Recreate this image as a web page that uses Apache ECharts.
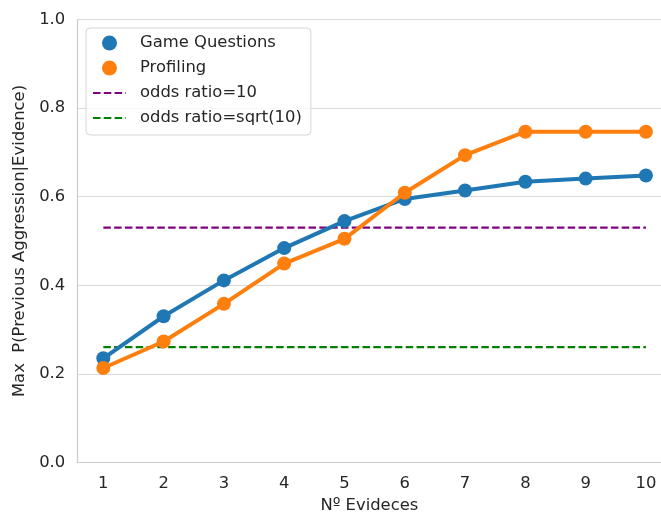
<!DOCTYPE html>
<html>
<head>
<meta charset="utf-8">
<script src="https://cdn.jsdelivr.net/npm/echarts@6/dist/echarts.min.js"></script>
<style>
  html, body { margin: 0; padding: 0; background: #fff; }
  #chart { width: 661px; height: 513px; }
</style>
</head>
<body>
<div id="chart"></div>
<script>
const evidences = [1, 2, 3, 4, 5, 6, 7, 8, 9, 10];
const gameQuestions = [0.235, 0.330, 0.411, 0.484, 0.545, 0.595, 0.614, 0.634, 0.641, 0.648];
const profiling = [0.213, 0.273, 0.358, 0.449, 0.505, 0.609, 0.694, 0.747, 0.747, 0.747];
const oddsRatio10 = 0.530;
const oddsRatioSqrt10 = 0.260;
const yTicks = [0.0, 0.2, 0.4, 0.6, 0.8, 1.0];

const textColor = '#262626';
const font = 'DejaVu Sans';

const chart = echarts.init(document.getElementById('chart'));

// seaborn-like categorical spacing: the frame starts a bit before the first category
// and is cut off by the figure edge on the right
const xMin = 0.575;
const xMax = 10.25;

const pairs = vals => evidences.map((e, i) => [e, vals[i]]);
const level = v => evidences.map(e => [e, v]);

const option = {
  animation: false,
  backgroundColor: '#fff',
  grid: { left: 77.7, right: 0, top: 19.7, bottom: 50.7, outerBoundsMode: 'none', containLabel: false },
  legend: {
    orient: 'vertical',
    left: 86,
    top: 28,
    padding: [5, 9, 7, 6],
    itemGap: 5,
    itemWidth: 33,
    itemHeight: 15,
    borderColor: '#d6d6d6',
    borderWidth: 1,
    borderRadius: 4,
    backgroundColor: 'rgba(255,255,255,0.8)',
    textStyle: { color: textColor, fontFamily: font, fontSize: 16.4, lineHeight: 20, padding: [0, 0, 0, 9] },
    data: [
      { name: 'Game Questions', icon: 'circle' },
      { name: 'Profiling', icon: 'circle' },
      { name: 'odds ratio=10', itemStyle: { opacity: 0 } },
      { name: 'odds ratio=sqrt(10)', itemStyle: { opacity: 0 } }
    ]
  },
  xAxis: {
    type: 'value',
    min: xMin,
    max: xMax,
    name: 'Nº Evideces',
    nameLocation: 'middle',
    nameGap: 35.5,
    nameTextStyle: { color: textColor, fontFamily: font, fontSize: 16.4 },
    axisLine: { show: true, onZero: false, lineStyle: { color: '#cccccc', width: 1.2 } },
    axisTick: { show: false },
    axisLabel: {
      color: textColor, fontFamily: font, fontSize: 16.4, margin: 13,
      customValues: evidences,
      formatter: v => String(Math.round(v))
    },
    splitLine: { show: false }
  },
  yAxis: {
    type: 'value',
    min: 0,
    max: 1,
    interval: 0.2,
    name: 'Max  P(Previous Aggression|Evidence)',
    nameLocation: 'middle',
    nameGap: 43,
    nameTextStyle: { color: textColor, fontFamily: font, fontSize: 16.4 },
    axisLine: { show: true, lineStyle: { color: '#cccccc', width: 1.2 } },
    axisTick: { show: false },
    axisLabel: {
      color: textColor, fontFamily: font, fontSize: 16.4, margin: 12.5,
      formatter: v => yTicks.find(t => Math.abs(t - v) < 1e-9).toFixed(1)
    },
    splitLine: { show: true, lineStyle: { color: '#d9d9d9', width: 1.2 } }
  },
  series: [
    {
      name: 'odds ratio=10',
      type: 'line',
      data: level(oddsRatio10),
      symbol: 'none',
      lineStyle: { color: 'purple', width: 2.2, type: [7.5, 3.3] },
      itemStyle: { color: 'purple' },
      z: 1
    },
    {
      name: 'odds ratio=sqrt(10)',
      type: 'line',
      data: level(oddsRatioSqrt10),
      symbol: 'none',
      lineStyle: { color: 'green', width: 2.2, type: [7.5, 3.3] },
      itemStyle: { color: 'green' },
      z: 1
    },
    {
      name: 'Game Questions',
      type: 'line',
      data: pairs(gameQuestions),
      symbol: 'circle',
      symbolSize: 14,
      lineStyle: { color: '#1f77b4', width: 4 },
      itemStyle: { color: '#1f77b4' },
      z: 2
    },
    {
      name: 'Profiling',
      type: 'line',
      data: pairs(profiling),
      symbol: 'circle',
      symbolSize: 14,
      lineStyle: { color: '#ff7f0e', width: 4 },
      itemStyle: { color: '#ff7f0e' },
      z: 3
    }
  ]
};

chart.setOption(option);
window.addEventListener('resize', function () {
  chart.resize();
});
</script>
</body>
</html>
